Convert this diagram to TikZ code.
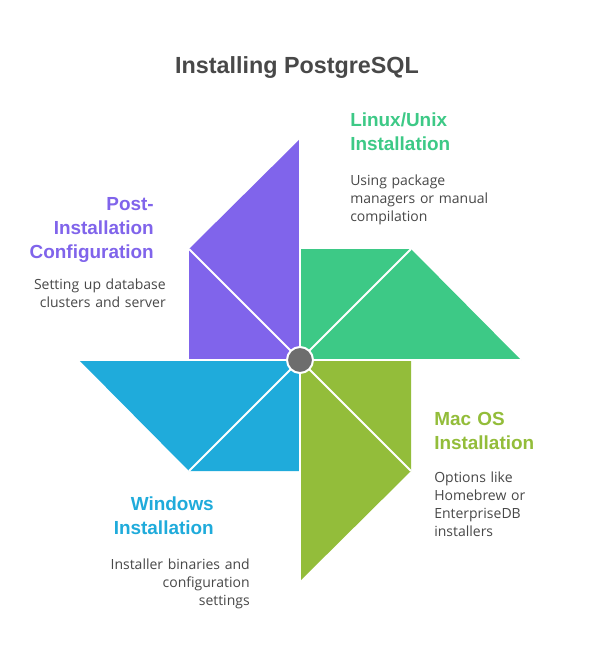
\documentclass[tikz,border=0pt]{standalone}
\usepackage{fontspec}
\setmainfont{Open Sans}
\newfontfamily\headfont{Liberation Sans}
\definecolor{cpurple}{HTML}{8064EB}
\definecolor{cgreen}{HTML}{3DC986}
\definecolor{colive}{HTML}{93BD3A}
\definecolor{cblue}{HTML}{1FABDB}
\definecolor{cdark}{HTML}{484848}
\tikzset{x=0.75pt,y=-0.75pt,
 sep/.style={draw=white,line width=1.5pt},
 hub/.style={circle,fill=cdark!80!white,draw=white,line width=1.5pt,minimum size=19.5pt,inner sep=0pt},
 ttl/.style={font=\headfont\bfseries\fontsize{14.2}{18}\selectfont,inner sep=0pt},
 body/.style={font=\fontsize{10.5}{13.5}\selectfont,text=cdark,inner sep=0pt}}
\begin{document}
\begin{tikzpicture}
\useasboundingbox (0,0) rectangle (600,660);
\fill[white] (0,0) rectangle (600,660);
\coordinate (c) at (300,360);
\node[font=\headfont\bfseries\fontsize{17.5}{22}\selectfont,text=cdark] (title) at (297,68) {Installing PostgreSQL};
\coordinate (p1) at (300,139);
\coordinate (p2) at (521,360);
\coordinate (p3) at (300,581);
\coordinate (p4) at (79,360);
\coordinate (a1) at (189,249);
\coordinate (a2) at (411,249);
\coordinate (a3) at (411,471);
\coordinate (a4) at (189,471);
\fill[cpurple] (c) -- (a1 |- c) -- (a1) -- (p1) -- cycle;
\fill[cgreen] (c) -- (c |- a2) -- (a2) -- (p2) -- cycle;
\fill[colive] (c) -- (a3 |- c) -- (a3) -- (p3) -- cycle;
\fill[cblue] (c) -- (c |- a4) -- (a4) -- (p4) -- cycle;
\draw[sep] (c) -- (a1);
\draw[sep] (c) -- (a2);
\draw[sep] (c) -- (a3);
\draw[sep] (c) -- (a4);
\draw[sep] (c) -- (p1);
\draw[sep] (c) -- (p2);
\draw[sep] (c) -- (p3);
\draw[sep] (c) -- (p4);
\node[hub] (h) at (c) {};
\node[ttl,text=cgreen,align=left,anchor=north west,text width=120pt] (t1) at (350,112.5) {Linux/Unix\\Installation};
\node[body,align=left,anchor=north west,text width=130pt] (b1) at (350,175) {Using package\\managers or manual\\compilation};
\node[ttl,text=colive,align=left,anchor=north west,text width=120pt] (t2) at (434,412.5) {Mac OS\\Installation};
\node[body,align=left,anchor=north west,text width=120pt] (b2) at (434,472) {Options like\\Homebrew or\\EnterpriseDB\\installers};
\node[ttl,text=cblue,align=right,anchor=north east,text width=120pt] (t3) at (214,496.5) {Windows\\Installation};
\node[body,align=right,anchor=north east,text width=160pt] (b3) at (250,559) {Installer binaries and\\configuration\\settings};
\node[ttl,text=cpurple,align=right,anchor=north east,text width=130pt] (t4) at (154,197) {Post-\\Installation\\Configuration};
\node[body,align=right,anchor=north east,text width=150pt] (b4) at (166,278.5) {Setting up database\\clusters and server};
\end{tikzpicture}
\end{document}
